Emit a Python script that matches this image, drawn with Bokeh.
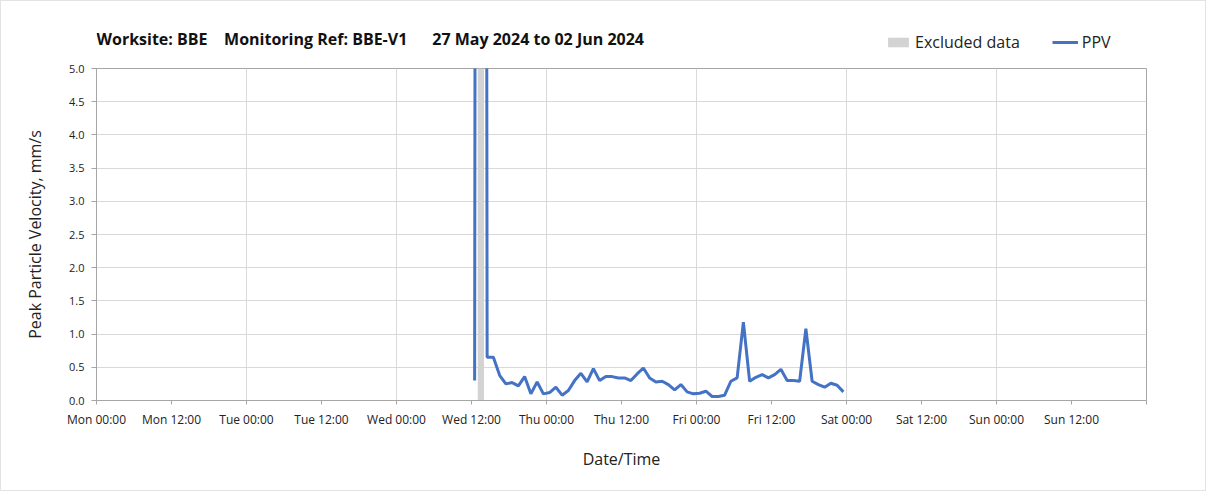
from bokeh.plotting import figure
from bokeh.layouts import column
from bokeh.models import (FixedTicker, Legend, LegendItem, NumeralTickFormatter,
                          Range1d, Label)
from bokeh.embed import file_html
from bokeh.resources import INLINE

# ---- data ----
# hours since Mon 27 May 2024 00:00
ppv_hours = [60.5, 61.5, 62.5, 63.5, 64.5, 65.5, 66.5, 67.5, 68.5, 69.5, 70.5,
             71.5, 72.5, 73.5, 74.5, 75.5, 76.5, 77.5, 78.5, 79.5, 80.5,
             81.5, 82.5, 83.5, 84.5, 85.5, 86.5, 87.5, 88.5, 89.5, 90.5,
             91.5, 92.5, 93.5, 94.5, 95.5, 96.5, 97.5, 98.5, 99.5, 100.5,
             101.5, 102.5, 103.5, 104.5, 105.5, 106.5, 107.5, 108.5, 109.5, 110.5,
             111.5, 112.5, 113.5, 114.5, 115.5, 116.5, 117.5, 118.5, 119.5]
ppv_values = [0.30, 80.0, 0.65, 0.65, 0.38, 0.25, 0.27, 0.22, 0.36, 0.10, 0.28,
              0.10, 0.12, 0.20, 0.08, 0.15, 0.30, 0.41, 0.28, 0.48, 0.30,
              0.36, 0.36, 0.34, 0.34, 0.30, 0.40, 0.49, 0.34, 0.28, 0.29,
              0.24, 0.16, 0.24, 0.13, 0.10, 0.11, 0.14, 0.06, 0.06, 0.08,
              0.29, 0.34, 1.18, 0.29, 0.35, 0.39, 0.34, 0.39, 0.47, 0.30,
              0.30, 0.29, 1.08, 0.29, 0.24, 0.20, 0.26, 0.23, 0.13]
excluded_start = [61.0]
excluded_end = [62.0]

tick_hours = [0, 12, 24, 36, 48, 60, 72, 84, 96, 108, 120, 132, 144, 156, 168]
tick_labels = ["Mon 00:00", "Mon 12:00", "Tue 00:00", "Tue 12:00", "Wed 00:00",
               "Wed 12:00", "Thu 00:00", "Thu 12:00", "Fri 00:00", "Fri 12:00",
               "Sat 00:00", "Sat 12:00", "Sun 00:00", "Sun 12:00", ""]
grid_hours = [24, 48, 72, 96, 120, 144]
y_ticks = [0.0, 0.5, 1.0, 1.5, 2.0, 2.5, 3.0, 3.5, 4.0, 4.5, 5.0]

NB = "\u00a0"
title_text = ("Worksite: BBE" + NB * 4 + "Monitoring Ref: BBE-V1" + NB * 6 +
              "27 May 2024 to 02 Jun 2024")

FONT = "Open Sans"
GRID = "#d9d9d9"
AXIS = "#a6a6a6"
EXCL_COLOR = "#d3d3d3"
PPV_COLOR = "#4472C4"

W = 1204
HEAD_H = 60
MAIN_H = 429

# ---------------- header (title + legend) ----------------
# The header figure views a range that holds none of the data; its glyphs
# only serve as legend swatches.
head = figure(width=W, height=HEAD_H, output_backend="svg", toolbar_location=None,
              x_range=Range1d(-2, -1), y_range=Range1d(-2, -1),
              x_axis_type=None, y_axis_type=None, title=None,
              min_border_left=0, min_border_right=0, min_border_top=0,
              min_border_bottom=0)
head.outline_line_color = None
head.grid.visible = False

h_ex = head.quad(left=excluded_start, right=excluded_end, bottom=[0], top=[5],
                 fill_color=EXCL_COLOR, line_color=None)
h_ln = head.line(ppv_hours, ppv_values, line_color=PPV_COLOR, line_width=3)

head.add_layout(Label(x=0, y=23, x_units="screen", y_units="screen",
                      text=title_text, text_font=FONT, text_font_size="16px",
                      text_font_style="bold", text_color="#111111",
                      text_baseline="middle", text_align="left"))

legend = Legend(items=[LegendItem(label="Excluded data", renderers=[h_ex]),
                       LegendItem(label="PPV", renderers=[h_ln])],
                orientation="horizontal", location=(789, 8),
                background_fill_alpha=0, border_line_color=None,
                label_text_font=FONT, label_text_font_size="16px",
                label_text_color="#222222", glyph_width=26, glyph_height=12,
                padding=0, margin=0, spacing=32, label_standoff=4)
head.add_layout(legend, "center")

# ---------------- main chart ----------------
p = figure(width=W, height=MAIN_H, output_backend="svg", toolbar_location=None,
           x_range=Range1d(0, 168), y_range=Range1d(0, 5), title=None,
           min_border_left=95, min_border_right=59, min_border_top=7,
           min_border_bottom=90)

ex = p.quad(left=excluded_start, right=excluded_end, bottom=[0], top=[5],
            fill_color=EXCL_COLOR, line_color=None)
ln = p.line(ppv_hours, ppv_values, line_color=PPV_COLOR, line_width=3)

p.outline_line_color = AXIS
p.outline_line_width = 1

# x axis
p.xaxis.ticker = FixedTicker(ticks=tick_hours)
p.xaxis.major_label_overrides = {h: l for h, l in zip(tick_hours, tick_labels)}
p.xaxis.minor_tick_line_color = None
p.xaxis.major_tick_in = 0
p.xaxis.major_tick_out = 4
p.xaxis.axis_line_color = AXIS
p.xaxis.major_tick_line_color = AXIS
p.xaxis.major_label_text_font = FONT
p.xaxis.major_label_text_font_size = "12px"
p.xaxis.major_label_text_color = "#222222"
p.xaxis.major_label_standoff = 6
p.xaxis.axis_label = "Date/Time"
p.xaxis.axis_label_text_font = FONT
p.xaxis.axis_label_text_font_size = "16px"
p.xaxis.axis_label_text_font_style = "normal"
p.xaxis.axis_label_text_color = "#222222"
p.xaxis.axis_label_standoff = 17
p.xgrid.ticker = FixedTicker(ticks=grid_hours)
p.xgrid.grid_line_color = GRID
p.xgrid.grid_line_width = 1

# y axis
p.yaxis.ticker = FixedTicker(ticks=y_ticks)
p.yaxis.formatter = NumeralTickFormatter(format="0.0")
p.yaxis.minor_tick_line_color = None
p.yaxis.major_tick_in = 0
p.yaxis.major_tick_out = 5
p.yaxis.axis_line_color = AXIS
p.yaxis.major_tick_line_color = AXIS
p.yaxis.major_label_text_font = FONT
p.yaxis.major_label_text_font_size = "11px"
p.yaxis.major_label_text_color = "#222222"
p.yaxis.major_label_standoff = 7
p.yaxis.axis_label = "Peak Particle Velocity, mm/s"
p.yaxis.axis_label_text_font = FONT
p.yaxis.axis_label_text_font_size = "16px"
p.yaxis.axis_label_text_font_style = "normal"
p.yaxis.axis_label_text_color = "#222222"
p.yaxis.axis_label_standoff = 20
p.ygrid.grid_line_color = GRID
p.ygrid.grid_line_width = 1

layout = column(head, p, spacing=0,
                styles={"border": "1px solid #e3e3e3"})

open("out.html", "w").write(file_html(layout, INLINE))
